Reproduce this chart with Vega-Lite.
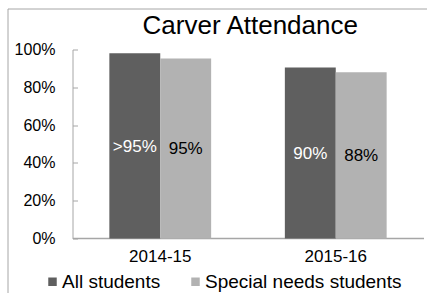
{
  "$schema": "https://vega.github.io/schema/vega-lite/v6.json",
  "width": 419.5,
  "height": 284.5,
  "padding": {"left": 7.5, "top": 8.5, "right": 0, "bottom": 0},
  "autosize": {"type": "none"},
  "background": "white",
  "config": {
    "font": "Liberation Sans",
    "view": {"stroke": "#a6a6a6", "strokeWidth": 1, "strokeDash": [419.5, 704, 284.5]}
  },
  "title": {
    "text": "Carver Attendance",
    "orient": "bottom",
    "fontSize": 26,
    "fontWeight": "normal",
    "color": "#000000",
    "anchor": "middle",
    "dx": 33,
    "dy": -259,
    "baseline": "alphabetic",
    "offset": 0
  },
  "data": {
    "values": [
      {"year": "2014-15", "group": "All students", "value": 0.98, "label": ">95%"},
      {"year": "2014-15", "group": "Special needs students", "value": 0.953, "label": "95%"},
      {"year": "2015-16", "group": "All students", "value": 0.905, "label": "90%"},
      {"year": "2015-16", "group": "Special needs students", "value": 0.88, "label": "88%"}
    ]
  },
  "encoding": {
    "x": {
      "field": "year",
      "type": "nominal",
      "scale": {"range": [65, 416], "paddingInner": 0.42, "paddingOuter": 0.21},
      "axis": {
        "title": null,
        "labelAngle": 0,
        "labelFontSize": 17,
        "labelColor": "#000000",
        "domainColor": "#a6a6a6",
        "domainWidth": 1.5,
        "ticks": false,
        "labelPadding": 10,
        "offset": -55
      }
    },
    "xOffset": {"field": "group", "type": "nominal", "sort": ["All students", "Special needs students"]}
  },
  "layer": [
    {
      "mark": {"type": "bar"},
      "encoding": {
        "y": {
          "field": "value",
          "type": "quantitative",
          "scale": {"domain": [0, 1], "range": [230, 41], "nice": false},
          "axis": {
            "title": null,
            "values": [0, 0.2, 0.4, 0.6, 0.8, 1],
            "format": ".0%",
            "grid": false,
            "labelFontSize": 16,
            "labelColor": "#000000",
            "domainColor": "#a6a6a6",
            "tickColor": "#a6a6a6",
            "tickSize": -5,
            "labelPadding": 22.5,
            "offset": -65
          }
        },
        "color": {
          "field": "group",
          "type": "nominal",
          "sort": ["All students", "Special needs students"],
          "scale": {"range": ["#5f5f5f", "#b2b2b2"]},
          "legend": {
            "title": null,
            "orient": "none",
            "legendX": 35.5,
            "legendY": 263.5,
            "direction": "horizontal",
            "symbolType": "square",
            "symbolSize": 72,
            "symbolStrokeWidth": 0,
            "labelFontSize": 19,
            "labelLimit": 0,
            "labelColor": "#000000",
            "labelOffset": 0,
            "columnPadding": 25,
            "padding": 0
          }
        }
      }
    },
    {
      "mark": {"type": "text", "fontSize": 17, "baseline": "middle", "align": "center", "dy": 1},
      "encoding": {
        "y": {
          "field": "value",
          "type": "quantitative",
          "scale": {"domain": [0, 2], "range": [230, 41], "nice": false},
          "axis": null
        },
        "text": {"field": "label"},
        "color": {
          "condition": {"test": "datum.group === 'All students'", "value": "#ffffff"},
          "value": "#000000"
        }
      }
    }
  ],
  "resolve": {"scale": {"y": "independent"}}
}
